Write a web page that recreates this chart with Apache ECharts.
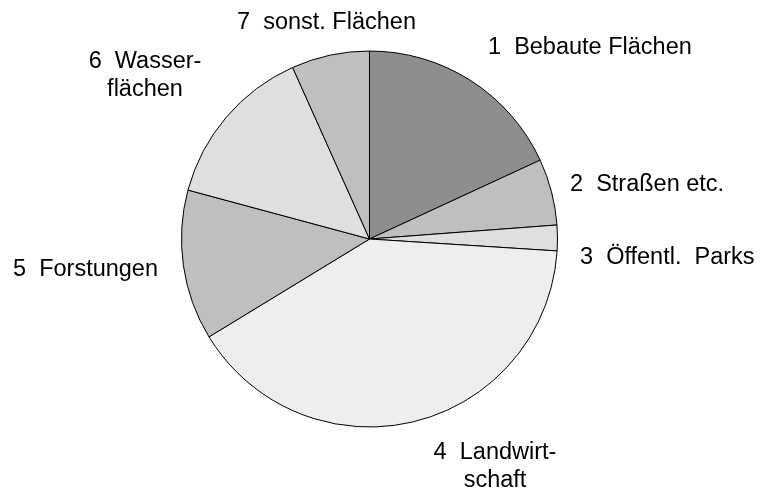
<!DOCTYPE html>
<html>
<head>
<meta charset="utf-8">
<script src="https://cdn.jsdelivr.net/npm/echarts@6/dist/echarts.min.js"></script>
<style>
  html, body { margin: 0; padding: 0; background: #fff; }
  #main { width: 762px; height: 493px; }
</style>
</head>
<body>
<div id="main"></div>
<script>
// Flächennutzung, Anteile in %
const names = [
  "1  Bebaute Flächen",
  "2  Straßen etc.",
  "3  Öffentl.  Parks",
  "4  Landwirt-\nschaft",
  "5  Forstungen",
  "6  Wasser-\nflächen",
  "7  sonst. Flächen"
];
const values = [18.1, 5.7, 2.2, 40.25, 12.9, 14.1, 6.7];

const colors = ["#8e8e8e", "#bfbfbf", "#dfdfdf", "#eeeeee", "#bfbfbf", "#dfdfdf", "#bfbfbf"];
// label anchors (x, y, align)
const labelPos = [
  [488, 48, "left"],
  [570, 185, "left"],
  [580, 258, "left"],
  [495, 467, "center"],
  [13, 270, "left"],
  [145, 76, "center"],
  [237, 23, "left"]
];

const chart = echarts.init(document.getElementById("main"));
const option = {
  animation: false,
  backgroundColor: "#fff",
  series: [
    {
      type: "pie",
      center: [369.5, 239],
      radius: 188,
      startAngle: 90,
      clockwise: true,
      avoidLabelOverlap: false,
      data: names.map((n, i) => ({
        name: n,
        value: values[i],
        itemStyle: { color: colors[i] }
      })),
      itemStyle: { borderColor: "#000", borderWidth: 1 },
      label: {
        show: true,
        position: "outside",
        formatter: "{b}",
        color: "#000",
        fontFamily: "Liberation Sans, Arial, sans-serif",
        fontSize: 23.5,
        lineHeight: 28
      },
      labelLine: { show: false },
      labelLayout: function (params) {
        const p = labelPos[params.dataIndex];
        return { x: p[0], y: p[1], align: p[2], verticalAlign: "middle", moveOverlap: false };
      },
      emphasis: { disabled: true }
    }
  ]
};
chart.setOption(option);
</script>
</body>
</html>
